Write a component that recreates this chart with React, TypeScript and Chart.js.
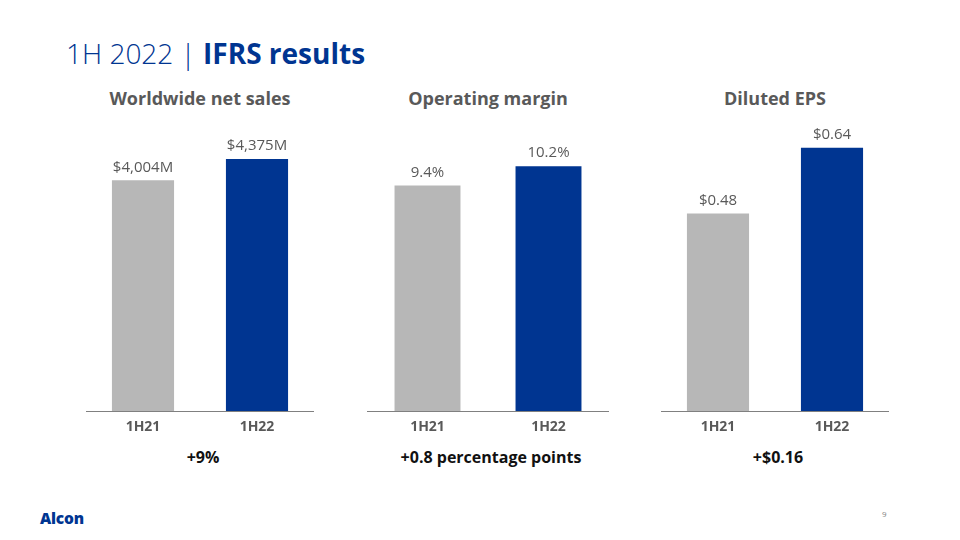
import React, { useEffect, useRef } from "react";
import { Chart, registerables } from "chart.js";

Chart.register(...registerables);

// ---------- data ----------
const CATEGORIES = ["1H21", "1H22"];

const SALES_VALUES = [4004, 4375];
const SALES_LABELS = ["$4,004M", "$4,375M"];

const MARGIN_VALUES = [9.4, 10.2];
const MARGIN_LABELS = ["9.4%", "10.2%"];

const EPS_VALUES = [0.48, 0.64];
const EPS_LABELS = ["$0.48", "$0.64"];

const PANEL_TITLES = ["Worldwide net sales", "Operating margin", "Diluted EPS"];
const PANEL_CHANGES = ["+9%", "+0.8 percentage points", "+$0.16"];

// axis upper limits (value scale per panel)
const SALES_MAX = 5208;
const MARGIN_MAX = 12.5;
const EPS_MAX = 0.729;

// ---------- styles ----------
const FONT = '"Open Sans", "Noto Sans", Arial, sans-serif';
const GRAY = "#b7b7b7";
const BLUE = "#003591";
const TEXT_GRAY = "#595959";

const CANVAS_TOP = 111;
const CANVAS_H = 330;
const AXIS_H = 30;

const PANEL_LAYOUT = [
  { left: 86, width: 228 },
  { left: 367, width: 242 },
  { left: 661, width: 228 },
];

const valueLabelPlugin = {
  id: "valueLabels",
  afterDatasetsDraw(chart: any, _args: any, opts: any) {
    const labels: string[] = opts.labels || [];
    const meta = chart.getDatasetMeta(0);
    const ctx = chart.ctx;
    ctx.save();
    ctx.font = `400 15px ${FONT}`;
    ctx.fillStyle = TEXT_GRAY;
    ctx.textAlign = "center";
    ctx.textBaseline = "middle";
    meta.data.forEach((bar: any, i: number) => {
      ctx.fillText(labels[i], bar.x, bar.y - 13);
    });
    ctx.restore();
  },
};

function BarPanel(props: {
  values: number[];
  labels: string[];
  max: number;
  left: number;
  width: number;
}) {
  const ref = useRef<HTMLCanvasElement | null>(null);
  useEffect(() => {
    if (!ref.current) return;
    const chart = new Chart(ref.current, {
      type: "bar",
      data: {
        labels: CATEGORIES,
        datasets: [
          {
            data: props.values,
            backgroundColor: [GRAY, BLUE],
            borderWidth: 0,
            categoryPercentage: 1,
            barPercentage: 0.545,
          },
        ],
      },
      options: {
        animation: false,
        responsive: false,
        maintainAspectRatio: false,
        layout: { padding: 0 },
        plugins: {
          legend: { display: false },
          tooltip: { enabled: false },
          title: { display: false },
          valueLabels: { labels: props.labels },
        } as any,
        scales: {
          x: {
            grid: { display: false, drawTicks: false },
            border: { display: true, color: "#808080", width: 1 },
            ticks: {
              color: TEXT_GRAY,
              font: { family: FONT, size: 14, weight: "bold" },
              padding: 8,
            },
            afterFit: (s: any) => {
              s.height = AXIS_H;
            },
          },
          y: { display: false, min: 0, max: props.max },
        },
      },
      plugins: [valueLabelPlugin],
    });
    return () => chart.destroy();
  }, []);
  return (
    <canvas
      ref={ref}
      width={props.width}
      height={CANVAS_H}
      style={{
        position: "absolute",
        left: props.left,
        top: CANVAS_TOP,
        width: props.width,
        height: CANVAS_H,
      }}
    />
  );
}

export default function App() {
  useEffect(() => {
    document.body.style.margin = "0";
  }, []);

  const panels = [
    { values: SALES_VALUES, labels: SALES_LABELS, max: SALES_MAX },
    { values: MARGIN_VALUES, labels: MARGIN_LABELS, max: MARGIN_MAX },
    { values: EPS_VALUES, labels: EPS_LABELS, max: EPS_MAX },
  ];

  const textBase: React.CSSProperties = {
    position: "absolute",
    fontFamily: FONT,
    lineHeight: 1,
    whiteSpace: "nowrap",
  };

  return (
    <div
      style={{
        position: "relative",
        width: 960,
        height: 540,
        background: "#ffffff",
        overflow: "hidden",
        fontFamily: FONT,
      }}
    >
      <div
        style={{
          ...textBase,
          left: 66,
          top: 39,
          fontSize: 28,
          color: BLUE,
        }}
      >
        <span style={{ fontWeight: 300 }}>1H 2022 | </span>
        <span style={{ fontWeight: 700 }}>IFRS results</span>
      </div>

      {panels.map((p, i) => {
        const lay = PANEL_LAYOUT[i];
        const cx = lay.left + lay.width / 2;
        return (
          <React.Fragment key={i}>
            <div
              style={{
                ...textBase,
                left: cx - 150,
                width: 300,
                textAlign: "center",
                top: 89,
                fontSize: 18,
                fontWeight: 700,
                color: TEXT_GRAY,
              }}
            >
              {PANEL_TITLES[i]}
            </div>
            <BarPanel
              values={p.values}
              labels={p.labels}
              max={p.max}
              left={lay.left}
              width={lay.width}
            />
            <div
              style={{
                ...textBase,
                left: cx + 3 - 150,
                width: 300,
                textAlign: "center",
                top: 449,
                fontSize: 16,
                fontWeight: 700,
                color: "#111111",
              }}
            >
              {PANEL_CHANGES[i]}
            </div>
          </React.Fragment>
        );
      })}

      <div
        style={{
          ...textBase,
          left: 40,
          top: 511,
          fontSize: 15.5,
          fontWeight: 800,
          letterSpacing: -0.2,
          color: BLUE,
        }}
      >
        Alcon
      </div>
      <div
        style={{
          ...textBase,
          left: 882,
          top: 510,
          fontSize: 8,
          color: "#808080",
        }}
      >
        9
      </div>
    </div>
  );
}
